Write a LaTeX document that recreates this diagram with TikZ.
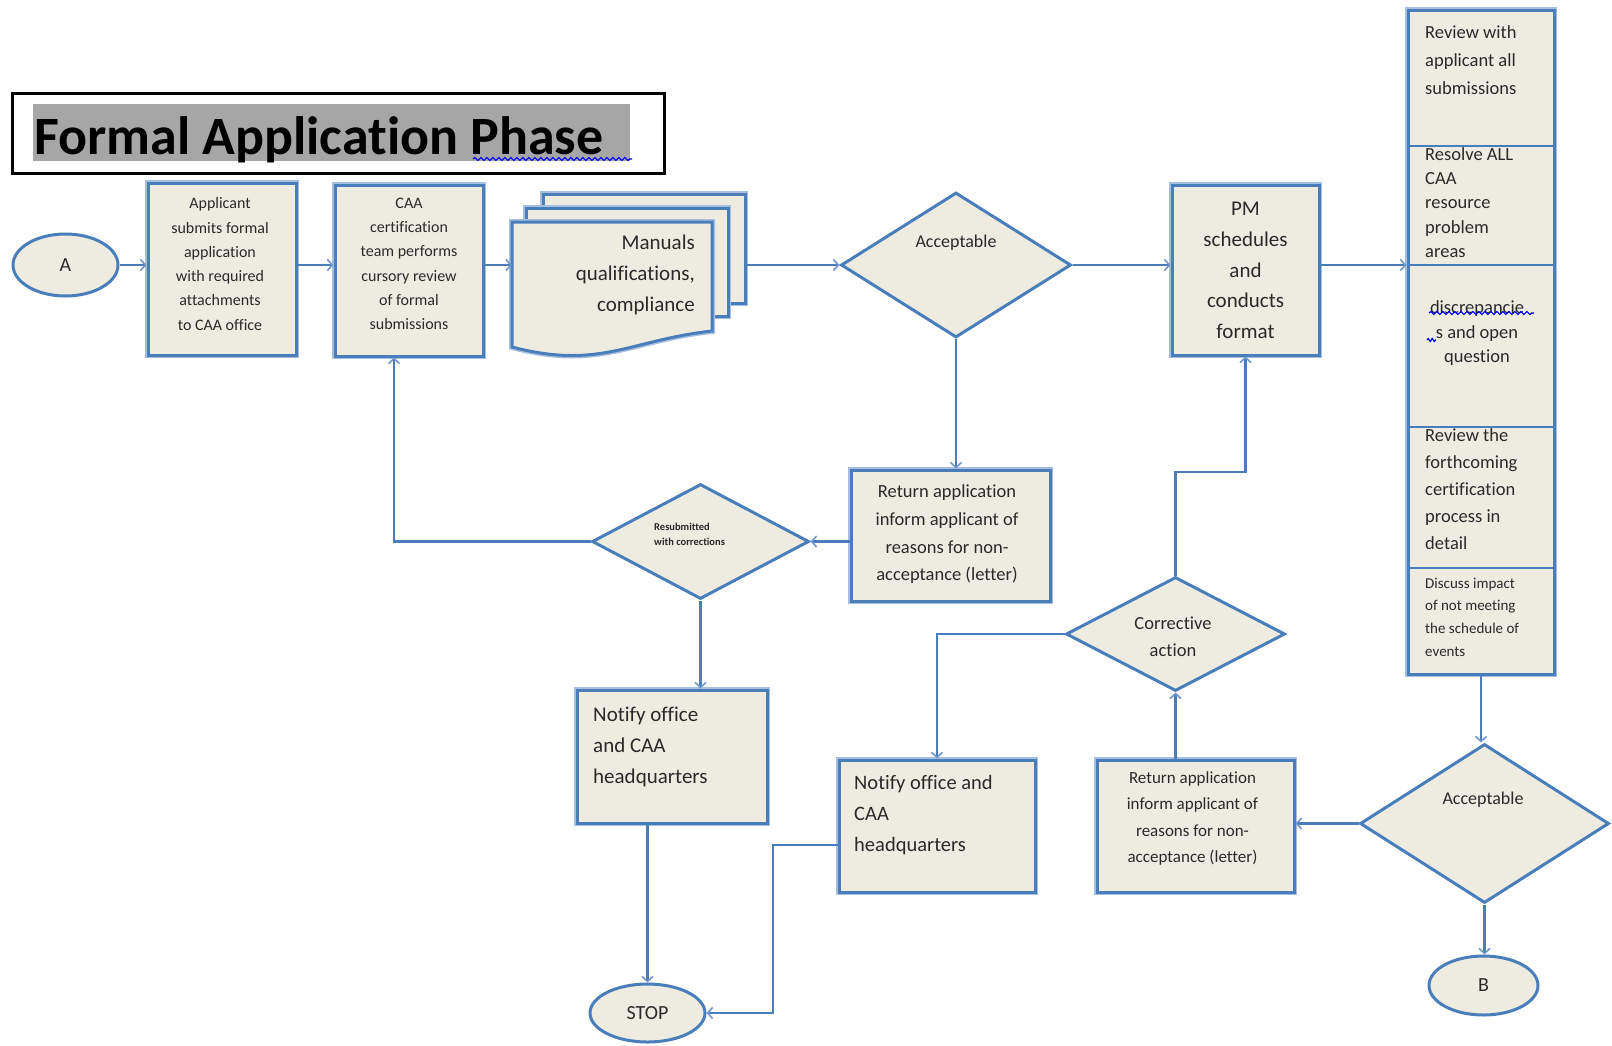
\documentclass[tikz,border=0pt]{standalone}
\usepackage{fontspec}
\setmainfont{Carlito}[Ligatures=NoCommon]
\usetikzlibrary{shapes.geometric,arrows.meta,decorations.pathmorphing}
\definecolor{lb}{HTML}{4A7EBB}
\definecolor{halo}{HTML}{A7BFDE}
\definecolor{bg}{HTML}{EEECE1}
\definecolor{tx}{HTML}{2A2A2A}
\definecolor{arr}{HTML}{6F97CB}
\definecolor{hl}{HTML}{A6A6A6}
\begin{document}
\begin{tikzpicture}[x=1pt,y=-1pt,
  box/.style={draw=lb, line width=3pt, fill=bg, preaction={draw=halo,line width=6pt}, inner sep=0pt},
  dia/.style={diamond, draw=lb, line width=3pt, fill=bg, inner sep=0pt},
  ell/.style={ellipse, draw=lb, line width=3pt, fill=bg, inner sep=0pt},
  conn/.style={draw=lb, line width=2.2pt, -{Straight Barb[length=5pt,width=11pt,line width=1.6pt,color=arr]}},
  divl/.style={draw=lb, line width=2.5pt},
  txt/.style 2 args={text=tx, inner sep=0pt, font=\fontsize{#1}{#2}\selectfont},
  squig/.style={draw=blue, line width=1.2pt, decorate, decoration={snake, amplitude=1.5pt, segment length=6pt}}
]
\useasboundingbox (0,0) rectangle (1612,1045);

% title
\fill[hl] (33,104) rectangle (630,161);
\node[draw=black, line width=3pt, minimum width=652, minimum height=80, inner sep=0pt] (tb) at (338,133) {};
\node[anchor=base west, inner sep=0pt, font=\fontsize{54}{60}\selectfont\bfseries] (title) at (34,154) {Formal Application Phase};
\draw[squig] (473,159) -- (632,159);

% helper coordinates
\coordinate (row) at (0,265);
\coordinate (j2) at (773,0);
\coordinate (j3) at (0,472);

% nodes
\node[ell, minimum width=105, minimum height=62] (A) at (65.5,265) {};
\node[txt={20}{24}] (At) at (A) {A};

\node[box, minimum width=148, minimum height=172] (b1) at (222,269) {};
\node[txt={16}{24.3}, align=center] (b1t) at (220,264) {Applicant\\submits formal\\application\\with required\\attachments\\to CAA office};

\node[box, minimum width=148, minimum height=171] (b2) at (409,270.5) {};
\node[txt={16}{24.3}, align=center] (b2t) at (409,264) {CAA\\certification\\team performs\\cursory review\\of formal\\submissions};

% document stack
\draw[draw=lb, line width=3pt, fill=bg, preaction={draw=halo,line width=6pt}] (543,194) rectangle (745,303);
\draw[draw=lb, line width=3pt, fill=bg, preaction={draw=halo,line width=6pt}] (526,208) rectangle (728,316);
\draw[draw=lb, line width=3pt, fill=bg, preaction={draw=halo,line width=6pt}] (512,222) -- (712,222) -- (712,331) .. controls (630,340) and (600,370) .. (512,347) -- cycle;
\coordinate (docin) at (512,265);
\coordinate (docout) at (745,265);
\node[txt={21}{31}, align=right, anchor=east] (doct) at (695,275) {Manuals\\qualifications,\\compliance};

\node[dia, minimum width=230, minimum height=145] (d1) at (956,265) {};
\node[txt={18}{22}] (d1t) at (956,243) {Acceptable};

\node[box, minimum width=147, minimum height=170] (pm) at (1245.5,270) {};
\node[txt={21}{30.8}, align=center] (pmt) at (1245.5,270.5) {PM\\schedules\\and\\conducts\\format};

% column
\node[box, minimum width=146, minimum height=664] (col) at (1481,342) {};
\draw[divl] (col.west |- 0,146) -- (col.east |- 0,146);
\draw[divl] (col.west |- 0,265) -- (col.east |- 0,265);
\draw[divl] (col.west |- 0,427) -- (col.east |- 0,427);
\draw[divl] (col.west |- 0,568) -- (col.east |- 0,568);
\node[txt={18.5}{28}, align=left, anchor=west] (s1) at (1425,60) {Review with\\applicant all\\submissions};
\node[txt={18.5}{24.25}, align=left, anchor=west] (s2) at (1425,202.5) {Resolve ALL\\CAA\\resource\\problem\\areas};
\node[txt={18.5}{24.5}, align=center] (s3) at (1477,333.5) {discrepancie\\s and open\\question};
\draw[squig] (1429,313) -- (1534,313);
\draw[squig, segment length=4pt] (1427,340) -- (1436,340);
\node[txt={18.5}{27}, align=left, anchor=west] (s4) at (1425,489) {Review the\\forthcoming\\certification\\process in\\detail};
\node[txt={15}{22.7}, align=left, anchor=west] (s5) at (1425,617) {Discuss impact\\of not meeting\\the schedule of\\events};

% lower left
\node[box, minimum width=199, minimum height=131] (r1) at (950.5,535.5) {};
\node[txt={18.5}{27.7}, align=center] (r1t) at (947,534.5) {Return application\\inform applicant of\\reasons for non-\\acceptance (letter)};

\node[dia, minimum width=217, minimum height=115] (rs) at (700.5,541.5) {};
\node[txt={10.5}{15}, align=left, anchor=west, font=\fontsize{10.5}{15}\selectfont\bfseries] (rst) at (654,534.5) {Resubmitted\\with corrections};

\node[box, minimum width=190, minimum height=133] (n1) at (672,756.5) {};
\node[txt={21}{31}, align=left, anchor=west] (n1t) at (593,747) {Notify office\\and CAA\\headquarters};

\node[ell, minimum width=115, minimum height=58] (stop) at (647.5,1013) {};
\node[txt={20}{24}] (stopt) at (stop) {STOP};

\node[box, minimum width=196, minimum height=132] (n2) at (937,826) {};
\node[txt={20.5}{31}, align=left, anchor=west] (n2t) at (854,815) {Notify office and\\CAA\\headquarters};

\node[box, minimum width=197, minimum height=132] (r2) at (1195.5,826) {};
\node[txt={17}{26.3}, align=center] (r2t) at (1192.5,818.5) {Return application\\inform applicant of\\reasons for non-\\acceptance (letter)};

\node[dia, minimum width=219, minimum height=114] (ca) at (1175.5,634) {};
\node[txt={18.5}{27}, align=center] (cat) at (1173,636.5) {Corrective\\action};

\node[dia, minimum width=249, minimum height=159] (d2) at (1484.5,823.5) {};
\node[txt={18}{22}] (d2t) at (1483,800) {Acceptable};

\node[ell, minimum width=109, minimum height=59] (B) at (1483.5,985.5) {};
\node[txt={20}{24}] (Bt) at (B) {B};

% connectors
\draw[conn] (A.east) -- (A.east -| b1.west);
\draw[conn] (b1.east |- row) -- (b2.west |- row);
\draw[conn] (b2.east |- row) -- (docin);
\draw[conn] (docout) -- (d1.west);
\draw[conn] (d1.east) -- (pm.west |- d1.east);
\draw[conn] (pm.east |- row) -- (col.west |- row);
\draw[conn] (d1.south) -- (d1.south |- r1.north);
\draw[conn] (r1.west |- rs.east) -- (rs.east);
\draw[conn] (rs.west) -| ([xshift=-15pt]b2.south);
\draw[conn] (rs.south) -- (rs.south |- n1.north);
\draw[conn] (stop.north |- n1.south) -- (stop.north);
\draw[conn] ([yshift=-19pt]n2.west) -| (j2 |- stop.east) -- (stop.east);
\draw[conn] (col.south) -- (col.south |- d2.north);
\draw[conn] (d2.south) -- (d2.south |- B.north);
\draw[conn] (d2.west) -- (d2.west -| r2.east);
\draw[conn] (ca.south |- r2.north) -- (ca.south);
\draw[conn] (ca.north) |- (pm.south |- j3) -- (pm.south);
\draw[conn] (ca.west) -| (n2.north);
\end{tikzpicture}
\end{document}
